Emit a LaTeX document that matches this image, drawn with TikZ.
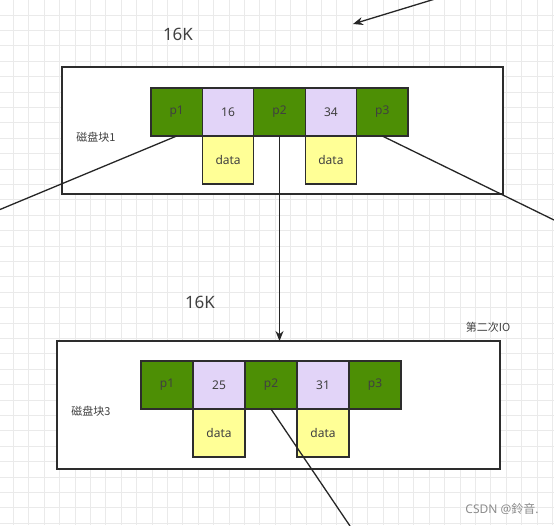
\documentclass[tikz,border=0pt]{standalone}
\usepackage{fontspec}
\setmainfont{Noto Sans}
\newfontfamily\cjk{Noto Sans CJK SC}
\usetikzlibrary{positioning,arrows.meta}
\definecolor{ptrgreen}{RGB}{77,143,5}
\definecolor{keypurple}{RGB}{226,212,248}
\definecolor{datayellow}{RGB}{255,255,150}
\definecolor{gridgray}{RGB}{234,234,234}
\definecolor{edgegray}{RGB}{45,45,45}
\tikzset{
  cell/.style={draw=edgegray, line width=1.2pt, minimum width=52pt, minimum height=48pt,
    inner sep=0pt, outer sep=0pt, font=\fontsize{12}{14}\selectfont, text=black!75},
  ptr/.style={cell, fill=ptrgreen},
  key/.style={cell, fill=keypurple},
  datacell/.style={cell, fill=datayellow},
  blockbox/.style={draw=edgegray, line width=1.6pt, fill=white, inner sep=0pt, outer sep=0pt},
  note/.style={font=\fontsize{12}{14}\selectfont, text=black!75, inner sep=0pt},
  link/.style={line width=1.3pt, draw=black!85},
}
\begin{document}
\begin{tikzpicture}[x=1pt, y=-1pt]
			%%%%% START %%%%%
			\useasboundingbox[fill=white] (0,0) rectangle (554,525);
			
			% background grid
			\foreach \gx in {0,...,35}
			\draw[gridgray, line width=0.8pt] ({13.3+15.4*\gx},0) -- ++(0,525);
			\foreach \gy in {0,...,33}
			\draw[gridgray, line width=0.8pt] (0,{15+15.4*\gy}) -- ++(554,0);
			
			% disk block 1
			\node[blockbox, minimum width=441pt, minimum height=127pt, anchor=north west] (blk1) at (62,67) {};
			\begin{scope}[cell/.append style={minimum width=51.4pt}]
			\node[ptr, anchor=north west] (a1) at (151,88) {p1};
			\node[key, right=0pt of a1] (a2) {16};
			\node[ptr, right=0pt of a2] (a3) {p2};
			\node[key, right=0pt of a3] (a4) {34};
			\node[ptr, right=0pt of a4] (a5) {p3};
			\node[datacell, below=0pt of a2] (a2d) {data};
			\node[datacell, below=0pt of a4] (a4d) {data};
			\end{scope}
			\node[note, font=\cjk\fontsize{11}{13}\selectfont] (lbl1) at (96,137) {磁盘块1};
			\node[note, font=\fontsize{17}{20}\selectfont] (size1) at (178,34) {16K};
			
			% disk block 3
			\node[blockbox, minimum width=443pt, minimum height=128pt, anchor=north west] (blk3) at (57,341) {};
			\node[ptr, anchor=north west] (b1) at (141,361) {p1};
			\node[key, right=0pt of b1] (b2) {25};
			\node[ptr, right=0pt of b2] (b3) {p2};
			\node[key, right=0pt of b3] (b4) {31};
			\node[ptr, right=0pt of b4] (b5) {p3};
			\node[datacell, below=0pt of b2] (b2d) {data};
			\node[datacell, below=0pt of b4] (b4d) {data};
			\node[note, font=\cjk\fontsize{11}{13}\selectfont] (lbl3) at (91,411) {磁盘块3};
			\node[note, font=\fontsize{17}{20}\selectfont] (size3) at (200,302) {16K};
			\node[note, font=\cjk\fontsize{11}{13}\selectfont] (io2) at (488,327) {第二次IO};
			
			% pointers
			\coordinate (inTop) at (435,-1);
			\coordinate (inTip) at (353,24);
			\coordinate (outL) at (0,209.5);
			\coordinate (outR) at (554,220);
			\coordinate (outB) at (350,526);
			\draw[link, -{Stealth[length=10pt,width=8pt]}] (inTop) -- (inTip);
			\draw[link] (a1.south) -- (outL);
			\draw[link] (a5.south) -- (outR);
			\draw[link, -{Stealth[length=10pt,width=8pt]}] (a3.south) -- (a3.south |- blk3.north);
			\draw[link] (b3.south) -- (outB);
			
			\node[note, text=black!45, font=\fontsize{12}{14}\selectfont] (mark) at (502,509) {CSDN @{\cjk 鈴音}.};
			%%%%% END %%%%%
\end{tikzpicture}
\end{document}
